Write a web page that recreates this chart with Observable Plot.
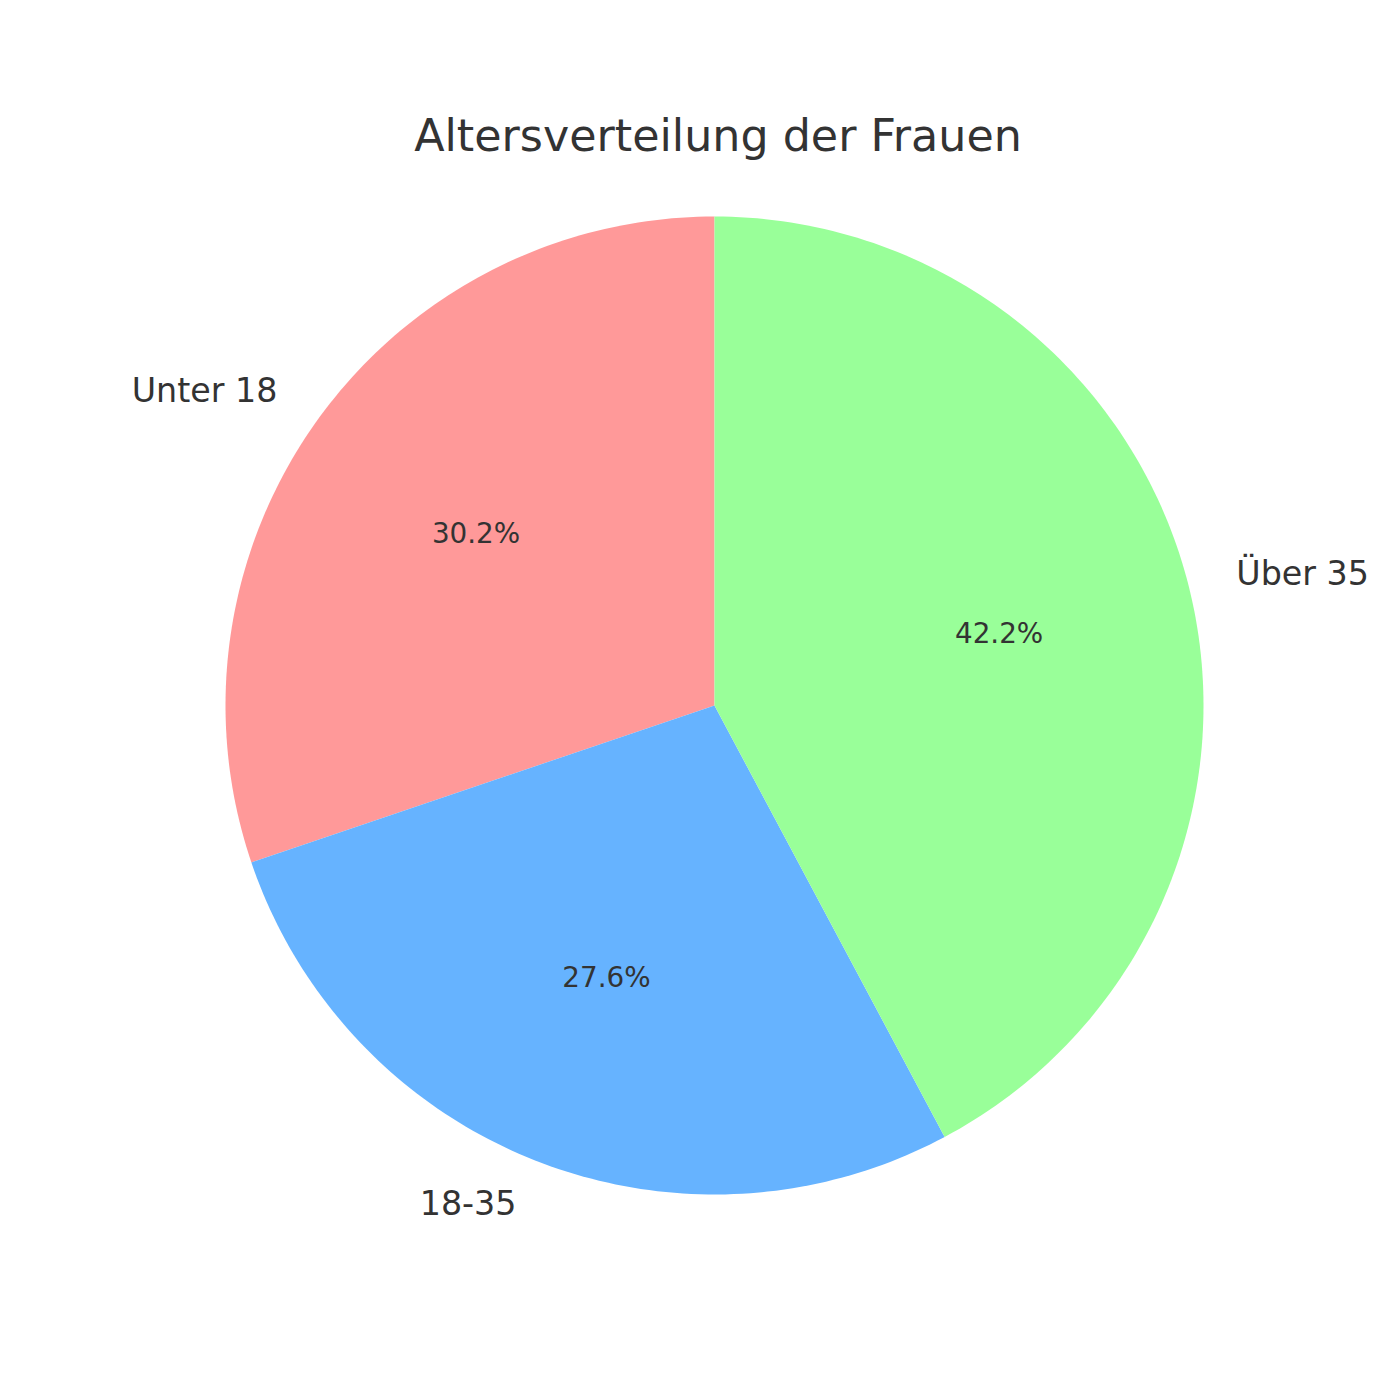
<!DOCTYPE html>
<html>
<head>
<meta charset="utf-8">
<script src="https://cdn.jsdelivr.net/npm/d3@7"></script>
<script src="https://cdn.jsdelivr.net/npm/@observablehq/plot@0.6"></script>
<style>
  body { margin: 0; background: #fff; font-family: "DejaVu Sans", sans-serif; }
  #wrap { width: 1400px; }
  #title { height: 170px; box-sizing: border-box; padding-top: 114px; line-height: 44.4px;
           font-size: 44.4px; color: #333333; text-align: center; padding-left: 36px; }
</style>
</head>
<body>
<div id="wrap">
  <div id="title">Altersverteilung der Frauen</div>
  <div id="chart"></div>
</div>
<script>
const categories = ["Unter 18", "18-35", "Über 35"];
const shares = [30.2, 27.6, 42.2];
const colors = ["#ff9999", "#66b3ff", "#99ff99"];

// Build wedge outlines (unit circle space) from the shares: start at top, counterclockwise
const total = d3.sum(shares);
const toRad = Math.PI / 180;
let start = 90;
const wedgePts = [];
const labels = [];
categories.forEach((cat, i) => {
  const sweep = shares[i] / total * 360;
  const end = start + sweep;
  const n = Math.max(2, Math.ceil(sweep));
  wedgePts.push({cat, x: 0, y: 0});
  for (let k = 0; k <= n; k++) {
    const a = (start + sweep * k / n) * toRad;
    wedgePts.push({cat, x: Math.cos(a), y: Math.sin(a)});
  }
  wedgePts.push({cat, x: 0, y: 0});
  const mid = (start + sweep / 2) * toRad;
  labels.push({
    cat, pct: shares[i].toFixed(1) + "%",
    lx: 1.1 * Math.cos(mid), ly: 1.1 * Math.sin(mid),
    px: 0.6 * Math.cos(mid), py: 0.6 * Math.sin(mid),
    anchor: Math.cos(mid) < 0 ? "end" : "start"
  });
  start = end;
});

const cx = 714, cy = 535, R = 489;
const chart = Plot.plot({
  width: 1400,
  height: 1230,
  margin: 0,
  x: {domain: [-1, 1], range: [cx - R, cx + R], axis: null},
  y: {domain: [-1, 1], range: [cy + R, cy - R], axis: null},
  color: {domain: categories, range: colors},
  style: {fontFamily: "DejaVu Sans, sans-serif", background: "#fff"},
  marks: [
    Plot.line(wedgePts, {x: "x", y: "y", z: "cat", fill: "cat", stroke: "none", curve: "linear"}),
    Plot.text(labels.filter(d => d.anchor === "end"), {x: "lx", y: "ly", text: "cat", textAnchor: "end", fontSize: 33.3, fill: "#333333", dy: -1}),
    Plot.text(labels.filter(d => d.anchor === "start"), {x: "lx", y: "ly", text: "cat", textAnchor: "start", fontSize: 33.3, fill: "#333333", dy: -1}),
    Plot.text(labels, {x: "px", y: "py", text: "pct", fontSize: 27.8, fill: "#333333"})
  ]
});
document.getElementById("chart").appendChild(chart);
</script>
</body>
</html>
